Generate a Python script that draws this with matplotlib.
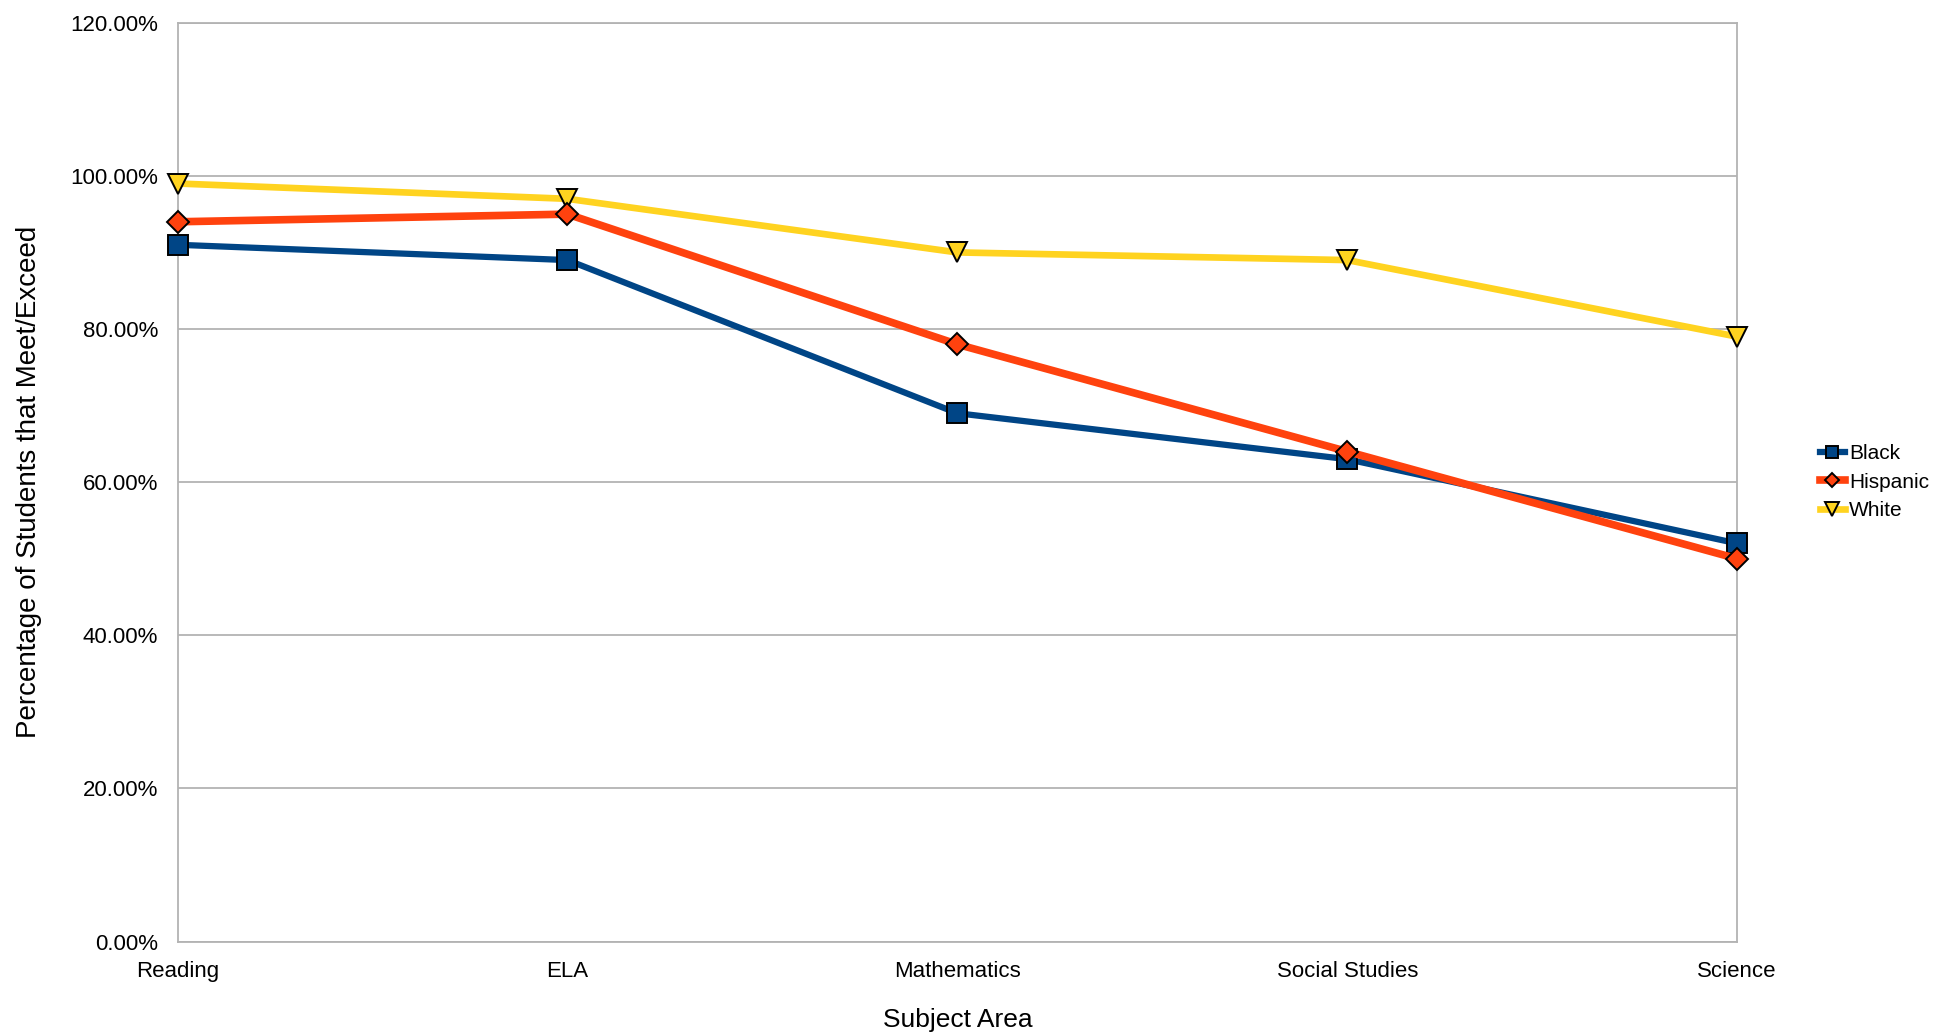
import matplotlib
matplotlib.use("Agg")
import matplotlib.pyplot as plt
from matplotlib.ticker import FuncFormatter, MultipleLocator

subjects = ["Reading", "ELA", "Mathematics", "Social Studies", "Science"]
black = [91, 89, 69, 63, 52]
hispanic = [94, 95, 78, 64, 50]
white = [99, 97, 90, 89, 79]

plt.rcParams['font.family'] = ['Liberation Sans', 'DejaVu Sans']

fig = plt.figure(figsize=(19.47, 10.36), dpi=100)
ax = fig.add_axes([0.0912, 0.0911, 0.8010, 0.8870])

x = range(len(subjects))
ax.plot(x, white, color='#ffd320', lw=4.8, marker='v', ms=15, mec='black', mew=1.4,
        label='White', zorder=3, clip_on=False)
ax.plot(x, black, color='#004586', lw=4.5, marker='s', ms=14, mec='black', mew=1.4,
        label='Black', zorder=4, clip_on=False)
ax.plot(x, hispanic, color='#ff420e', lw=5.5, marker='D', ms=11, mec='black', mew=1.4,
        label='Hispanic', zorder=5, clip_on=False)

ax.set_xlim(0, len(subjects) - 1)
ax.set_ylim(0, 120)
ax.yaxis.set_major_locator(MultipleLocator(20))
ax.yaxis.set_major_formatter(FuncFormatter(lambda v, p: '%.2f%%' % v))
ax.set_xticks(list(x))
ax.set_xticklabels(subjects)
ax.tick_params(axis='y', labelsize=16, length=0, pad=14)
ax.tick_params(axis='x', labelsize=16, length=0, pad=14)
ax.grid(axis='y', color='#b3b3b3', lw=1.3)
for s in ax.spines.values():
    s.set_color('#b3b3b3')
    s.set_linewidth(1.3)

ax.set_xlabel('Subject Area', fontsize=19, labelpad=19)
ax.set_ylabel('Percentage of Students that Meet/Exceed', fontsize=20, labelpad=20)

handles, labels = ax.get_legend_handles_labels()
order = [1, 2, 0]
leg = ax.legend([handles[i] for i in order], [labels[i] for i in order],
                loc='center left', bbox_to_anchor=(1.041, 0.5), frameon=False,
                fontsize=15, handlelength=1.2, handletextpad=0.2, labelspacing=0.45,
                markerscale=0.65)

fig.savefig('out.png', dpi=100)
